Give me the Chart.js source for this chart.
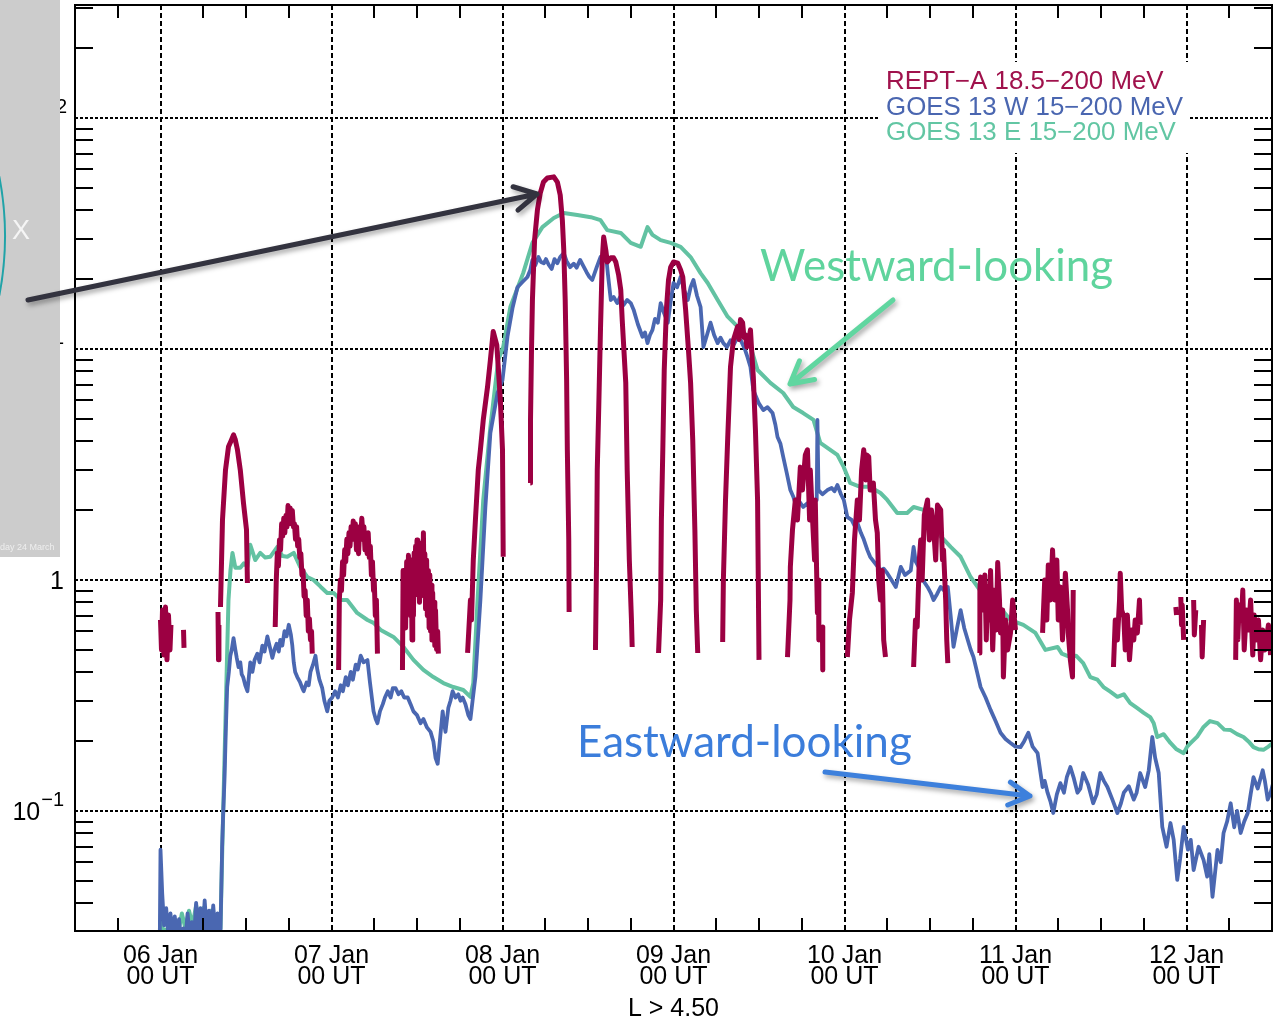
<!DOCTYPE html>
<html>
<head>
<meta charset="utf-8">
<script src="https://cdn.jsdelivr.net/npm/chart.js@4.4.1/dist/chart.umd.min.js"></script>
<style>
  html, body { margin: 0; padding: 0; background: #fff; }
  canvas { display: block; }
</style>
</head>
<body>
<canvas id="grafic" width="1278" height="1024"></canvas>
<script>
// Eix X: hores des del 06 Jan 00 UT. Eix Y: flux (escala log)
const dayLabels = ['06 Jan', '07 Jan', '08 Jan', '09 Jan', '10 Jan', '11 Jan', '12 Jan'];
const dayHours = [0, 24, 48, 72, 96, 120, 144];
const decadeTicks = [0.1, 1, 10, 100];
const decadeLabels = [['10', '\u22121'], ['1', ''], ['10', '1'], ['10', '2']];

// GOES 13 W 15-200 MeV (blau)
const goesWHours = [
  -0.1, 0, 0.24, 0.5, 0.8, 1.1, 1.4, 1.7, 2.0, 2.3, 2.6, 2.9, 3.2, 3.5, 3.8, 4.1, 4.4, 4.7, 5.0, 5.3,
  5.6, 5.9, 6.2, 6.5, 6.8, 7.1, 7.4, 7.7, 8.0, 8.3, 8.42, 8.65, 8.8, 8.98, 9.17,
  9.36, 9.6, 9.8, 10.0, 10.25, 10.5, 10.7, 10.95, 11.2, 11.4, 11.6, 11.9, 12.2, 12.4, 12.6, 12.9, 13.2, 13.6, 13.9, 14.3,
  14.6, 15.0, 15.3, 15.7, 16.0, 16.3, 16.6, 16.8, 17.1, 17.4, 17.7, 18.0, 18.3, 18.5, 18.7, 18.9, 19.2, 19.6, 19.9, 20.1,
  20.5, 20.8, 21.05, 21.4, 21.75, 22.0, 22.3, 22.7, 23.0, 23.4, 23.7, 24.1, 24.5, 24.9, 25.3, 25.6, 26.0, 26.3, 26.7, 27.0,
  27.4, 27.7, 28.1, 28.5, 29.05, 29.4, 29.9, 30.2, 30.45, 30.8, 31.2, 31.5, 31.9, 32.3, 32.6, 33.0, 33.4, 33.8, 34.2, 34.7,
  35.1, 35.5, 36.0, 36.5, 36.9, 37.4, 37.9, 38.3, 38.6, 38.9, 39.2, 39.6, 39.8, 40.0, 40.4, 40.7, 41.0, 41.4, 41.8, 42.1,
  42.4, 42.8, 43.2, 43.5, 43.8, 44.2, 44.9, 45.6, 46.3, 47.3, 48.0,
  48.7, 49.4, 50.1, 50.8, 51.5, 51.9, 52.2, 52.6, 53.05, 53.4, 53.8, 54.1, 54.5, 54.9, 55.3, 55.7, 56.1, 56.6, 57.0, 57.5,
  58.0, 58.4, 58.9, 59.3, 59.8, 60.2, 60.6, 61.2, 61.75, 62.1, 62.5, 62.8, 63.2, 63.6, 64.1, 64.5, 65.0, 65.5, 66.0, 66.4,
  67.0, 67.65, 68.0, 68.35, 68.7, 69.05, 69.4, 69.8, 70.2, 70.6, 71.2, 71.6, 72.0, 72.5, 73.0, 73.5, 74.0, 74.4, 74.8, 75.3,
  75.8, 76.2, 76.7, 77.2, 77.7, 78.2, 78.6, 79.0, 79.5, 80.0, 80.5, 81.0, 81.5, 82.0, 82.4, 82.8, 83.2, 83.6, 84.0, 84.6,
  85.2, 85.9, 86.3, 86.6, 87.0, 87.4, 87.9, 88.4, 88.8, 89.1, 89.6, 90.2, 90.8, 91.2, 91.65, 92.1, 92.2, 92.35, 92.9, 93.6,
  94.2, 94.6, 95.0, 95.5, 95.9, 96.4, 97.0, 97.4, 97.8, 98.3, 98.7, 99.2, 99.6, 100.3, 101.05, 101.5, 102.0, 102.6, 103.2, 103.9,
  104.5, 105.3, 105.7, 106.0, 106.4, 107.0, 107.65, 108.1, 108.5, 109.0, 109.5, 110.0, 110.5, 110.9, 111.3, 111.8, 112.3, 112.8, 113.3, 113.7,
  114.1, 114.6, 115.1, 115.8, 116.5, 117.2, 117.9, 118.6, 119.3, 120.0, 120.7, 121.2, 121.8, 122.4, 123.1, 123.8, 124.1, 124.5, 124.9, 125.3,
  125.8, 126.3, 126.8, 127.2, 127.7, 128.2, 128.7, 129.1, 129.5, 130.2, 130.9, 131.4, 131.9, 132.4, 132.9, 133.6, 134.3, 134.8, 135.2, 135.9,
  136.6, 137.0, 137.5, 138.2, 138.7, 139.2, 139.6, 140.1, 140.6, 141.2, 141.75, 142.2, 142.7, 143.1, 143.6, 144.2, 144.6, 145.0, 145.7, 146.4,
  146.9, 147.2, 147.65, 148.35, 148.8, 149.2, 149.7, 150.2, 150.7, 151.1, 151.6, 152.1, 152.6, 153.0, 153.4, 154.0, 154.7, 155.0, 155.4, 155.8,
  156.1
];
const goesWFlux = [
  0.028, 0.068, 0.044, 0.032, 0.038, 0.029, 0.036, 0.028, 0.035, 0.029, 0.034, 0.027, 0.031, 0.028, 0.036, 0.029, 0.033, 0.028, 0.040, 0.030,
  0.038, 0.029, 0.041, 0.030, 0.037, 0.029, 0.039, 0.030, 0.036, 0.029, 0.030, 0.070, 0.098, 0.136, 0.224,
  0.344, 0.40, 0.47, 0.50, 0.56, 0.50, 0.46, 0.42, 0.44, 0.39, 0.38, 0.35, 0.33, 0.38, 0.44, 0.40, 0.45, 0.48, 0.44, 0.52,
  0.49, 0.57, 0.52, 0.46, 0.50, 0.53, 0.49, 0.55, 0.52, 0.60, 0.57, 0.64, 0.58, 0.52, 0.44, 0.40, 0.38, 0.36, 0.34, 0.33,
  0.36, 0.35, 0.40, 0.43, 0.47, 0.41, 0.37, 0.34, 0.30, 0.27, 0.30, 0.31, 0.33, 0.31, 0.35, 0.33, 0.38, 0.35, 0.40, 0.37,
  0.43, 0.41, 0.47, 0.44, 0.45, 0.36, 0.27, 0.25, 0.24, 0.27, 0.29, 0.31, 0.33, 0.31, 0.34, 0.34, 0.32, 0.33, 0.31, 0.31,
  0.29, 0.27, 0.26, 0.24, 0.25, 0.23, 0.22, 0.20, 0.17, 0.16, 0.20, 0.27, 0.24, 0.22, 0.28, 0.30, 0.33, 0.31, 0.32, 0.30,
  0.31, 0.29, 0.26, 0.25, 0.30, 0.38, 0.819, 2.07, 4.33, 6.45, 7.34,
  11.3, 15.0, 18.5, 19.5, 20.5, 22.0, 24.3, 23.0, 25.0, 23.8, 23.5, 24.5, 23.1, 22.2, 24.5, 23.5, 25.0, 26.0, 24.0, 22.6,
  23.4, 22.5, 24.3, 23.0, 21.5, 20.5, 19.9, 22.5, 25.0, 24.0, 26.0, 21.0, 16.3, 16.8, 15.8, 16.8, 15.5, 16.3, 15.8, 14.8,
  12.8, 11.3, 11.8, 10.6, 11.5, 12.1, 13.5, 13.0, 15.8, 14.5, 13.0, 16.0, 19.3, 18.5, 20.5, 18.0, 16.3, 18.5, 19.9, 17.0,
  15.2, 10.2, 11.5, 13.0, 11.5, 10.6, 11.2, 10.6, 10.2, 10.9, 10.5, 11.3, 10.8, 10.0, 9.2, 8.36, 6.65, 6.2, 5.8, 5.44,
  5.6, 5.28, 4.7, 4.16, 3.9, 3.41, 2.9, 2.45, 2.3, 2.15, 2.2, 2.07, 2.15, 2.05, 2.22, 2.22, 4.93, 2.45, 2.35, 2.45,
  2.5, 2.42, 2.58, 2.35, 2.22, 1.87, 1.82, 1.72, 1.77, 1.6, 1.5, 1.35, 1.26, 1.18, 1.10, 1.12, 1.07, 1.0, 0.933, 1.14,
  1.05, 1.10, 1.39, 1.2, 1.14, 1.0, 0.933, 0.88, 0.819, 0.87, 0.933, 0.9, 0.933, 0.7, 0.513, 0.62, 0.741, 0.62, 0.55, 0.5,
  0.464, 0.4, 0.344, 0.31, 0.274, 0.245, 0.218, 0.205, 0.197, 0.19, 0.189, 0.2, 0.218, 0.19, 0.178, 0.127, 0.135, 0.120, 0.110, 0.098,
  0.118, 0.132, 0.120, 0.140, 0.155, 0.138, 0.120, 0.125, 0.146, 0.130, 0.108, 0.118, 0.146, 0.135, 0.127, 0.112, 0.098, 0.108, 0.120, 0.128,
  0.112, 0.120, 0.146, 0.127, 0.150, 0.209, 0.170, 0.146, 0.0853, 0.070, 0.0887, 0.075, 0.0503, 0.062, 0.0853, 0.068, 0.075, 0.0555, 0.070, 0.0613,
  0.052, 0.065, 0.0425, 0.0678, 0.060, 0.0803, 0.09, 0.108, 0.085, 0.100, 0.0803, 0.09, 0.098, 0.118, 0.140, 0.125, 0.150, 0.135, 0.112, 0.120,
  0.130
];

// GOES 13 E 15-200 MeV (verd)
const goesEHours = [
  -0.1, 0, 0.5, 1.0, 1.5, 2.0, 2.5, 3.0, 3.5, 4.0, 4.5, 5.0, 5.5, 6.0, 6.5, 7.0, 7.5, 8.0, 8.42, 8.7,
  8.98, 9.26, 9.54, 9.82, 10.1, 10.5, 11.2, 11.7, 12.2, 12.6, 13.3, 14.0, 14.7, 15.4, 16.4, 17.1, 17.8, 18.7, 19.6, 20.6,
  21.5, 22.5, 23.4, 24.3, 25.3, 26.2, 27.6, 29.05, 29.9, 30.9, 32.7, 34.1, 35.5, 36.9, 38.3, 39.7, 41.1, 42.5, 43.5, 43.9,
  44.5, 45.3, 46.3, 47.4, 48.1, 49.1, 50.9, 52.2, 53.6, 55.2, 56.6, 58.5, 60.4, 61.75, 62.7, 64.6, 66.0, 67.4, 68.35, 69.05,
  70.2, 71.6, 73.0, 74.4, 75.8, 76.8, 78.2, 79.6, 81.0, 82.4, 83.8, 85.6, 87.4, 88.8, 90.2, 91.65, 92.6, 95.0, 95.9, 96.8,
  98.2, 99.6, 101.05, 102.0, 103.4, 104.8, 105.7, 107.1, 109.05, 110.9, 112.3, 113.7, 115.5, 117.5, 119.3, 121.1, 122.8, 124.2, 125.9, 126.5,
  127.7, 128.5, 129.5, 130.5, 131.5, 132.35, 133.2, 134.3, 135.2, 136.1, 137.0, 138.0, 138.9, 139.4, 139.9, 140.8, 141.75, 142.6, 143.6, 144.1,
  144.6, 145.5, 146.4, 147.3, 148.35, 149.3, 150.2, 151.1, 152.0, 152.7, 153.4, 154.1, 154.8, 155.5, 156.1
];
const goesEFlux = [
  0.029, 0.033, 0.030, 0.031, 0.029, 0.034, 0.030, 0.036, 0.031, 0.037, 0.032, 0.039, 0.033, 0.038, 0.032, 0.037, 0.031, 0.035, 0.031, 0.075,
  0.166, 0.369, 0.819, 1.10, 1.31, 1.13, 1.13, 1.18, 1.14, 1.42, 1.22, 1.31, 1.25, 1.26, 1.39, 1.27, 1.26, 1.31, 1.14, 1.03,
  1.0, 0.933, 0.879, 0.879, 0.819, 0.819, 0.72, 0.671, 0.652, 0.608, 0.567, 0.513, 0.451, 0.408, 0.38, 0.358, 0.344, 0.334, 0.312, 0.358,
  0.819, 2.22, 4.6, 8.96, 10.2, 15.2, 21.3, 28.8, 33.7, 36.9, 38.8, 38.0, 37.2, 36.1, 32.7, 31.8, 28.8, 27.7, 33.7, 31.2,
  29.6, 28.8, 27.7, 25.0, 21.3, 19.3, 16.3, 13.8, 12.5, 11.3, 8.11, 7.13, 6.45, 5.61, 5.28, 4.93, 3.92, 3.48, 3.08, 2.63,
  2.53, 2.53, 2.38, 2.22, 1.95, 1.95, 2.07, 2.01, 1.60, 1.39, 1.26, 1.03, 0.861, 0.78, 0.671, 0.639, 0.59, 0.498, 0.513, 0.48,
  0.464, 0.47, 0.437, 0.38, 0.37, 0.344, 0.33, 0.312, 0.32, 0.293, 0.28, 0.266, 0.255, 0.24, 0.209, 0.215, 0.197, 0.185, 0.178, 0.19,
  0.197, 0.21, 0.231, 0.245, 0.24, 0.225, 0.224, 0.215, 0.209, 0.2, 0.189, 0.185, 0.184, 0.19, 0.197
];

// REPT-A 18.5-200 MeV (granat); null = fora de L > 4.5
const reptHours = [
  0.0, 0.14, 0.28, 0.49, 0.7, 0.91, 1.12, 1.33, 1.47, 2.0, 3.23, 3.3, 5.0, 8.07, 8.14, 8.2, 8.3,
  8.42, 8.7, 9.12, 9.54, 9.9, 10.25, 10.5, 10.8, 11.2, 11.65, 12.07, 12.2, 14.0,
  16.1, 16.25, 16.4, 16.55, 16.7, 16.85, 17.0, 17.15, 17.3, 17.45, 17.6, 17.75, 17.9, 18.05, 18.2, 18.35, 18.5, 18.65,
  18.8, 18.95, 19.1, 19.25, 19.4, 19.55, 19.7, 19.85, 20.0, 20.15, 20.3, 20.45, 20.6, 20.75, 20.9, 21.05, 21.2, 21.3, 23.0,
  25.0, 25.1, 25.25, 25.4, 25.55, 25.7, 25.85, 26.0, 26.15, 26.3, 26.45, 26.6, 26.75, 26.9, 27.05, 27.2, 27.35, 27.5, 27.65,
  27.8, 27.95, 28.1, 28.25, 28.4, 28.55, 28.7, 28.85, 29.0, 29.15, 29.3, 29.45, 29.6, 29.75, 29.9, 30.0, 30.15, 30.3, 30.45, 32.0,
  33.96, 34.05, 34.15, 34.3, 34.4, 34.55, 34.7, 34.8, 34.9, 35.0, 35.1, 35.2, 35.3, 35.4, 35.5, 35.6, 35.7, 35.8, 35.9, 36.0,
  36.1, 36.2, 36.35, 36.45, 36.6, 36.7, 36.8, 36.9, 37.0, 37.1, 37.2, 37.35, 37.45, 37.6, 37.7, 37.8, 37.9, 38.0, 38.1, 38.2,
  38.3, 38.4, 38.5, 38.6, 38.75, 38.9, 39.0, 41.0,
  43.1, 43.5, 43.65, 43.9, 44.2, 44.6, 44.9, 45.3, 45.9, 46.3, 46.7, 47.2, 47.4, 47.7, 48.0, 48.1, 50.0,
  51.9, 51.93, 52.07, 52.2, 52.5, 52.9, 53.3, 53.75, 54.3, 55.2, 55.7, 56.1, 56.4, 56.6, 56.8, 57.0, 57.1, 57.3, 57.35, 59.0,
  61.05, 61.2, 61.3, 61.5, 61.75, 62.0, 62.2, 62.5, 62.7, 63.2, 63.6, 63.9, 64.3, 64.6, 64.8, 65.3, 65.5, 65.8, 66.1, 66.2, 68.0,
  69.9, 70.2, 70.3, 70.5, 70.7, 71.0, 71.3, 71.6, 72.0, 72.6, 73.0, 73.3, 73.7, 74.1, 74.4, 74.7, 75.0, 75.2, 75.4, 77.0,
  78.9, 79.0, 79.3, 79.6, 80.0, 80.4, 81.0, 81.2, 81.4, 81.7, 81.9, 82.1, 82.3, 82.5, 82.8, 83.0, 83.2, 83.5, 83.8, 83.9, 84.0, 86.0,
  88.0, 88.35, 88.4, 88.7, 89.1, 89.4, 89.8, 90.1, 90.5, 90.8, 91.1, 91.2, 91.5, 91.8, 91.9, 92.2, 92.35, 92.4, 92.6, 92.9, 92.95, 94.5,
  96.4, 96.7, 97.1, 97.4, 97.8, 98.1, 98.4, 98.7, 99.0, 99.1, 99.4, 99.6, 100.05, 100.35, 100.6, 100.8, 101.05, 101.3, 101.5, 101.75, 103.5,
  105.7, 105.96, 106.2, 106.5, 106.7, 106.9, 107.2, 107.65, 107.9, 108.2, 108.5, 108.8, 109.05, 109.5, 109.75, 109.9, 110.2, 110.35, 110.5, 112.5,
  114.9, 115.0, 115.1, 115.4, 115.7, 115.9, 116.1, 116.35, 116.5, 116.8, 117.1, 117.3, 117.5, 117.75, 117.9, 118.2, 118.3, 118.6, 118.9, 119.3, 119.6, 120.0, 122.0,
  123.8, 124.1, 124.4, 124.6, 124.9, 125.2, 125.5, 125.8, 126.0, 126.3, 126.6, 127.0, 127.3, 127.4, 127.7, 128.0, 128.1, 131.0,
  133.75, 134.0, 134.3, 134.6, 134.7, 134.9, 135.2, 135.4, 135.7, 136.0, 136.3, 136.6, 136.8, 137.1, 137.4, 137.5, 140.0,
  142.5, 142.6, 142.9, 143.2, 143.3, 143.4, 143.6, 144.3, 145.0, 145.1, 145.3, 145.7, 146.1, 146.2, 146.4, 148.0,
  150.9, 151.0, 151.2, 151.4, 151.7, 151.9, 152.1, 152.4, 152.7, 153.0, 153.3, 153.5, 153.8, 154.1, 154.4, 154.7, 155.0, 155.2, 155.5, 155.8
];
const reptFlux = [
  0.671, 0.498, 0.741, 0.473, 0.764, 0.451, 0.705, 0.498, 0.639, null, 0.608, 0.508, null, 0.727, 0.451, 0.639, null,
  0.764, 1.82, 2.99, 3.77, 4.0, 4.25, 4.05, 3.66, 2.99, 2.15, 1.65, 0.97, null,
  0.626, 1.0, 1.31, 1.15, 1.49, 1.35, 1.75, 1.55, 1.85, 1.6, 1.9, 1.7, 2.1, 1.8, 2.05, 1.75, 2.0, 1.7,
  1.75, 1.5, 1.7, 1.4, 1.5, 1.25, 1.3, 1.05, 1.1, 0.85, 0.9, 0.7, 0.82, 0.6, 0.68, 0.55, 0.6, 0.48, null,
  0.408, 0.82, 1.0, 0.9, 1.2, 1.05, 1.35, 1.2, 1.5, 1.3, 1.6, 1.4, 1.7, 1.5, 1.8, 1.55, 1.75, 1.35, 1.6,
  1.3, 1.7, 1.5, 1.85, 1.6, 1.7, 1.35, 1.55, 1.3, 1.6, 1.25, 1.4, 1.05, 1.2, 0.9, 1.0, 0.7, 0.82, 0.48, null,
  0.408, 1.10, 0.7, 0.95, 0.62, 1.2, 0.8, 1.28, 0.75, 1.1, 0.7, 1.22, 0.55, 1.1, 0.7, 1.31, 0.86, 1.4, 0.9, 1.49,
  0.95, 1.3, 0.8, 1.35, 0.9, 1.45, 1.0, 1.6, 0.85, 1.3, 0.75, 1.22, 0.7, 1.1, 0.62, 1.05, 0.6, 0.95, 0.55, 0.88,
  0.6, 0.8, 0.52, 0.74, 0.5, 0.6, 0.48, null,
  0.483, 0.819, 0.671, 1.22, 1.82, 2.99, 3.66, 4.93, 6.85, 8.96, 11.9, 10.4, 8.36, 6.01, 3.66, 1.26, null,
  2.63, 4.93, 9.9, 16.3, 29.6, 40.0, 47.3, 52.8, 55.0, 55.6, 52.8, 46.4, 36.1, 26.8, 16.3, 7.34, 3.66, 1.49, 0.727, null,
  0.498, 1.22, 2.99, 5.44, 12.1, 24.3, 30.5, 26.8, 23.8, 24.8, 24.8, 23.8, 20.9, 18.0, 13.4, 7.13, 2.99, 1.22, 0.671, 0.513, null,
  0.483, 0.819, 1.82, 3.66, 8.11, 14.8, 19.9, 22.6, 23.8, 23.5, 22.0, 20.5, 14.8, 9.9, 7.13, 4.04, 1.65, 0.741, 0.483, null,
  0.539, 1.0, 2.22, 4.04, 8.36, 10.9, 12.5, 11.0, 13.4, 13.0, 11.2, 11.5, 10.2, 10.6, 12.1, 9.5, 7.57, 4.46, 2.22, 1.0, 0.451, null,
  0.464, 0.819, 1.14, 1.65, 2.22, 1.82, 3.08, 2.45, 3.48, 3.66, 1.82, 2.99, 1.87, 1.22, 2.22, 0.72, 1.0, 0.55, null, 0.626, 0.408, null,
  0.464, 0.671, 0.879, 1.49, 2.22, 1.82, 2.99, 3.66, 2.71, 3.48, 3.41, 2.45, 2.63, 1.82, 1.60, 1.0, 0.819, 1.10, 0.55, 0.464, null,
  0.42, 0.671, 0.626, 1.22, 1.49, 1.0, 1.91, 2.22, 1.49, 2.01, 1.69, 1.22, 2.11, 2.01, 1.22, 1.35, 0.819, 0.55, 0.437, null,
  0.483, 0.905, 1.03, 0.741, 1.05, 0.55, 0.933, 0.671, 1.10, 0.498, 0.905, 0.608, 1.19, 0.819, 0.59, 0.741, 0.38, 0.671, 0.498, 0.59, 0.819, 0.608, null,
  0.59, 1.0, 0.671, 1.16, 0.819, 1.35, 0.819, 1.22, 0.671, 0.933, 0.55, 1.07, 0.741, 0.59, 0.451, 0.38, 0.905, null,
  0.42, 0.671, 0.55, 0.819, 1.07, 0.741, 0.692, 0.498, 0.705, 0.451, 0.608, 0.55, 0.671, 0.59, 0.819, 0.639, null,
  0.764, 0.705, null, 0.844, 0.639, 0.78, 0.55, null, 0.819, 0.578, 0.741, null, 0.639, 0.464, 0.671, null,
  0.451, 0.819, 0.55, 0.78, 0.671, 0.905, 0.498, 0.741, 0.608, 0.819, 0.473, 0.705, 0.55, 0.671, 0.451, 0.608, 0.498, 0.55, 0.639, 0.473
];

const colorRept = '#9c0042';
const colorGoesW = '#4a67b1';
const colorGoesE = '#62c2a2';

function punts(hores, flux) {
  return hores.map((h, i) => ({ x: h, y: flux[i] }));
}

// fletxes de l'anotacio
function dibuixaFletxa(ctx, x0, y0, x1, y1, color, gruix, cap) {
  const ang = Math.atan2(y1 - y0, x1 - x0);
  ctx.save();
  ctx.strokeStyle = color;
  ctx.lineWidth = gruix;
  ctx.lineCap = 'round';
  ctx.lineJoin = 'round';
  ctx.shadowColor = 'rgba(0,0,0,0.35)';
  ctx.shadowBlur = 5;
  ctx.shadowOffsetX = 2;
  ctx.shadowOffsetY = 3;
  ctx.beginPath();
  ctx.moveTo(x0, y0);
  ctx.lineTo(x1, y1);
  ctx.moveTo(x1 - cap * Math.cos(ang - 0.5), y1 - cap * Math.sin(ang - 0.5));
  ctx.lineTo(x1, y1);
  ctx.lineTo(x1 - cap * Math.cos(ang + 0.5), y1 - cap * Math.sin(ang + 0.5));
  ctx.stroke();
  ctx.restore();
}

function textAjustat(ctx, text, x, yBase, amplada, color) {
  ctx.font = '40px Lato';
  const mida = 40 * amplada / ctx.measureText(text).width;
  ctx.font = mida.toFixed(1) + 'px Lato';
  ctx.fillStyle = color;
  ctx.textAlign = 'left';
  ctx.textBaseline = 'alphabetic';
  ctx.fillText(text, x, yBase);
}

const marcPlugin = {
  id: 'marc',
  afterDraw(chart) {
    const { ctx, chartArea: a, scales: { x, y } } = chart;
    ctx.save();

    // ticks interiors
    ctx.strokeStyle = '#000';
    ctx.lineWidth = 2;
    ctx.beginPath();
    for (let h = -6; h < 156; h += 6) {
      if (h % 24 === 0) continue;
      const px = Math.round(x.getPixelForValue(h));
      ctx.moveTo(px, a.bottom); ctx.lineTo(px, a.bottom - 13);
      ctx.moveTo(px, a.top); ctx.lineTo(px, a.top + 13);
    }
    for (let d = -2; d <= 2; d++) {
      for (let m = 2; m <= 9; m++) {
        const v = m * Math.pow(10, d);
        if (v <= y.min || v >= y.max) continue;
        const py = Math.round(y.getPixelForValue(v));
        ctx.moveTo(a.left, py); ctx.lineTo(a.left + 18, py);
        ctx.moveTo(a.right, py); ctx.lineTo(a.right - 18, py);
      }
    }
    ctx.stroke();
    ctx.strokeRect(a.left, a.top, a.right - a.left, a.bottom - a.top);

    // etiquetes eix Y amb exponent
    ctx.fillStyle = '#000';
    ctx.textAlign = 'right';
    ctx.textBaseline = 'alphabetic';
    decadeTicks.forEach((v, i) => {
      const py = y.getPixelForValue(v);
      const [base, sup] = decadeLabels[i];
      const dreta = a.left - 11;
      let ws = 0;
      if (sup) {
        ctx.font = '20px "Liberation Sans"';
        ws = ctx.measureText(sup).width + 1;
        ctx.fillText(sup, dreta + (sup === '2' ? 3 : 0), py - 5);
      }
      ctx.font = '25px "Liberation Sans"';
      ctx.fillText(base, dreta - ws, py + 9);
    });

    // llegenda
    ctx.fillStyle = '#fff';
    ctx.fillRect(878, 62, 312, 91);
    ctx.textAlign = 'left';
    ctx.textBaseline = 'middle';
    ctx.font = '25px "Liberation Sans"';
    [['REPT\u2212A 18.5\u2212200 MeV', '#a0124c', 82],
     ['GOES 13 W 15\u2212200 MeV', '#4a66b0', 108],
     ['GOES 13 E 15\u2212200 MeV', '#62c6a3', 133]].forEach(([t, c, ly]) => {
      ctx.save();
      ctx.translate(886, ly);
      ctx.scale(1.035, 1);
      ctx.fillStyle = c;
      ctx.fillText(t, 0, 0);
      ctx.restore();
    });

    // panell gris de la diapositiva
    ctx.fillStyle = '#cccccc';
    ctx.fillRect(0, 0, 60, 557);
    ctx.save();
    ctx.beginPath(); ctx.rect(0, 0, 60, 557); ctx.clip();
    ctx.strokeStyle = '#20a3a8';
    ctx.lineWidth = 2;
    ctx.beginPath();
    ctx.arc(-311, 236, 316, -0.19, 0.19);
    ctx.stroke();
    ctx.restore();
    ctx.fillStyle = '#f5f5f5';
    ctx.font = '27px "Liberation Sans"';
    ctx.textBaseline = 'alphabetic';
    ctx.fillText('X', 12, 239);
    ctx.font = '9px "Liberation Sans"';
    ctx.fillStyle = '#eeeeee';
    ctx.fillText('day 24 March', 0, 550);

    // anotacions
    dibuixaFletxa(ctx, 28, 300, 537, 194, '#33333f', 5, 25);
    textAjustat(ctx, 'Westward-looking', 760, 281, 353, '#5fd49d');
    dibuixaFletxa(ctx, 893, 300, 790, 384, '#60d6a0', 5, 25);
    textAjustat(ctx, 'Eastward-looking', 577, 757, 335, '#3b7ddb');
    dibuixaFletxa(ctx, 825, 772, 1030, 796, '#3d80dc', 5, 24);

    ctx.restore();
  }
};

new Chart(document.getElementById('grafic'), {
  type: 'line',
  data: {
    datasets: [
      {
        label: 'REPT-A 18.5-200 MeV',
        data: punts(reptHours, reptFlux),
        borderColor: colorRept, borderWidth: 5,
        pointRadius: 0, spanGaps: false, borderJoinStyle: 'round', tension: 0
      },
      {
        label: 'GOES 13 W 15-200 MeV',
        data: punts(goesWHours, goesWFlux),
        borderColor: colorGoesW, borderWidth: 3.8,
        pointRadius: 0, borderJoinStyle: 'round', tension: 0
      },
      {
        label: 'GOES 13 E 15-200 MeV',
        data: punts(goesEHours, goesEFlux),
        borderColor: colorGoesE, borderWidth: 4,
        pointRadius: 0, borderJoinStyle: 'round', tension: 0
      }
    ]
  },
  options: {
    responsive: false,
    animation: false,
    devicePixelRatio: 1,
    layout: { padding: { top: 5, right: 6, left: 0, bottom: 0 } },
    plugins: { legend: { display: false }, tooltip: { enabled: false } },
    scales: {
      x: {
        type: 'linear', min: -12, max: 156,
        afterBuildTicks: s => { s.ticks = dayHours.map(v => ({ value: v })); },
        afterFit: s => { s.height = 93; },
        grid: { color: '#000', lineWidth: 2, drawTicks: false },
        border: { display: false, dash: [5, 3] },
        ticks: {
          autoSkip: false, maxRotation: 0, padding: 14, color: '#000',
          font: { family: '"Liberation Sans"', size: 25, lineHeight: 0.85 },
          callback: v => [dayLabels[dayHours.indexOf(v)], '00 UT']
        },
        title: {
          display: true, text: 'L > 4.50', color: '#000',
          font: { family: '"Liberation Sans"', size: 25, lineHeight: 1.2 },
          padding: { top: 0, bottom: 0 }
        }
      },
      y: {
        type: 'logarithmic', min: 0.03023, max: 308.4,
        afterBuildTicks: s => { s.ticks = decadeTicks.map(v => ({ value: v })); },
        afterFit: s => { s.width = 75; },
        grid: { color: '#000', lineWidth: 2, drawTicks: false },
        border: { display: false, dash: [3, 2] },
        ticks: { display: false }
      }
    }
  },
  plugins: [marcPlugin]
});
</script>
</body>
</html>
